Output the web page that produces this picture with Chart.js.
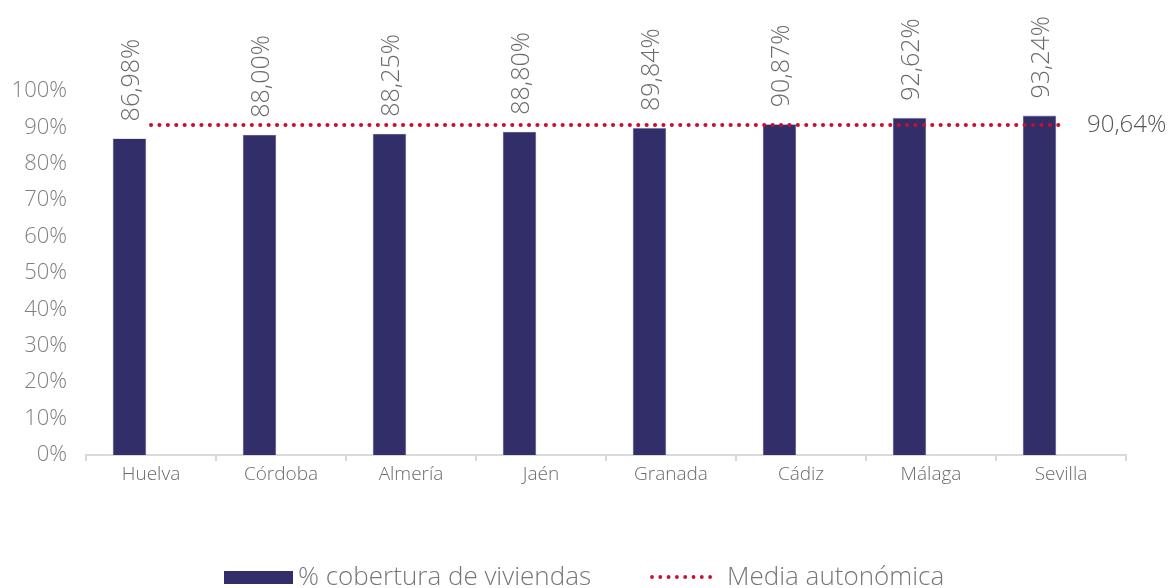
<!DOCTYPE html>
<html><head><meta charset="utf-8">
<script src="https://cdn.jsdelivr.net/npm/chart.js@4/dist/chart.umd.min.js"></script>
<style>html,body{margin:0;padding:0;background:#fff}#wrap{width:1168px;height:588px}</style>
</head><body><div id="wrap"><canvas id="c" width="1168" height="588"></canvas></div>
<script>
const categories = ['Huelva','Córdoba','Almería','Jaén','Granada','Cádiz','Málaga','Sevilla'];
const coverage = [86.98, 88.00, 88.25, 88.80, 89.84, 90.87, 92.62, 93.24];
const regionalAverage = 90.64;
const averageSeries = categories.map(() => regionalAverage);
const yTicks = [0,10,20,30,40,50,60,70,80,90,100];
const seriesNames = ['% cobertura de viviendas', 'Media autonómica'];

const NAVY = '#312e69';
const RED = '#c8102e';
const FONT = '"Open Sans"';
const fmt = v => v.toFixed(2).replace('.', ',') + '%';

const labelsPlugin = {
  id: 'labels',
  afterDatasetsDraw(chart) {
    const ctx = chart.ctx;
    const bars = chart.getDatasetMeta(0).data;
    ctx.save();
    ctx.fillStyle = '#6b6b6b';
    ctx.font = '300 25px ' + FONT;
    bars.forEach((b, i) => {
      ctx.save();
      ctx.translate(b.x + 2, b.y - 17);
      ctx.rotate(-Math.PI / 2);
      ctx.textAlign = 'left';
      ctx.textBaseline = 'middle';
      ctx.fillText(fmt(coverage[i]), 0, 0);
      ctx.restore();
    });
    const pts = chart.getDatasetMeta(2).data;
    const last = pts[pts.length - 1];
    ctx.fillStyle = '#555555';
    ctx.font = '300 24px ' + FONT;
    ctx.textAlign = 'left';
    ctx.textBaseline = 'middle';
    ctx.fillText(fmt(regionalAverage), last.x + 26, last.y);
    // legend
    const ly = 578;
    ctx.fillStyle = NAVY;
    ctx.fillRect(224, ly - 7, 69, 13);
    ctx.fillStyle = '#777777';
    ctx.font = '300 26px ' + FONT;
    ctx.fillText(seriesNames[0], 298, ly);
    ctx.fillStyle = RED;
    for (let x = 652; x <= 718; x += 8.3) {
      ctx.beginPath(); ctx.arc(x, ly - 1, 1.9, 0, Math.PI * 2); ctx.fill();
    }
    ctx.fillStyle = '#777777';
    ctx.fillText(seriesNames[1], 727, ly);
    ctx.restore();
  }
};

new Chart(document.getElementById('c'), {
  data: {
    labels: categories,
    datasets: [
      { type: 'bar', label: seriesNames[0], data: coverage, backgroundColor: NAVY, borderColor: '#8f8fb8', borderWidth: {left:0.6,right:0.6,top:0.6,bottom:0}, order: 2 },
      { type: 'bar', label: 'hidden', data: categories.map(() => null), backgroundColor: 'rgba(0,0,0,0)', order: 3 },
      { type: 'line', label: seriesNames[1], data: averageSeries, borderColor: RED, borderWidth: 4, borderDash: [0.1, 8.3], borderCapStyle: 'round', pointRadius: 0, fill: false, order: 1 }
    ]
  },
  options: {
    responsive: false,
    animation: false,
    devicePixelRatio: 1,
    layout: { padding: { top: 91, right: 42, left: 0, bottom: 0 } },
    datasets: { bar: { categoryPercentage: 0.662, barPercentage: 0.78 } },
    plugins: { legend: { display: false }, tooltip: { enabled: false } },
    scales: {
      x: {
        offset: true,
        afterFit: s => { s.height = 133; },
        grid: { display: true, drawOnChartArea: false, offset: true, tickLength: 6, color: '#d9d9d9', lineWidth: 2 },
        border: { display: true, color: '#d9d9d9', width: 2 },
        ticks: { color: '#6b6b6b', font: { family: FONT, size: 19, weight: 300 }, padding: 2, maxRotation: 0 }
      },
      y: {
        min: 0, max: 100,
        afterFit: s => { s.width = 86; },
        afterBuildTicks: s => { s.ticks = yTicks.map(v => ({ value: v })); },
        grid: { display: false, drawTicks: false },
        border: { display: false },
        ticks: { color: '#808080', font: { family: FONT, size: 22, weight: 300 }, padding: 19, callback: v => v + '%' }
      }
    }
  },
  plugins: [labelsPlugin]
});
</script></body></html>
